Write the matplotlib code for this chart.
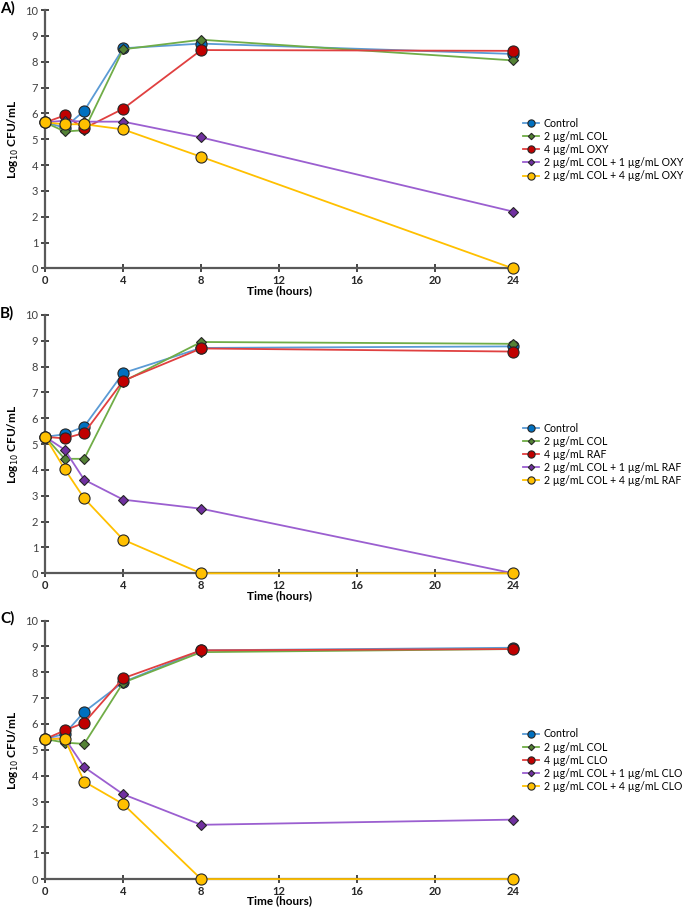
import matplotlib.pyplot as plt

plt.rcParams['font.family'] = ['Lato', 'DejaVu Sans']

# sampling times (hours)
hours = [0, 1, 2, 4, 8, 24]

# panel A: oxytetracycline
a_control = [5.65, 5.45, 6.10, 8.52, 8.70, 8.30]
a_col = [5.65, 5.30, 5.35, 8.48, 8.85, 8.05]
a_drug = [5.65, 5.92, 5.42, 6.18, 8.45, 8.42]
a_combo1 = [5.65, 5.72, 5.68, 5.68, 5.07, 2.20]
a_combo4 = [5.65, 5.58, 5.58, 5.38, 4.32, 0.00]

# panel B: rafoxanide
b_control = [5.28, 5.38, 5.68, 7.75, 8.72, 8.78]
b_col = [5.28, 4.43, 4.43, 7.42, 8.95, 8.88]
b_drug = [5.28, 5.22, 5.43, 7.45, 8.70, 8.58]
b_combo1 = [5.28, 4.78, 3.62, 2.85, 2.50, 0.00]
b_combo4 = [5.28, 4.03, 2.90, 1.30, 0.00, 0.00]

# panel C: closantel
c_control = [5.42, 5.62, 6.47, 7.62, 8.85, 8.95]
c_col = [5.42, 5.28, 5.23, 7.60, 8.78, 8.90]
c_drug = [5.42, 5.75, 6.05, 7.77, 8.85, 8.90]
c_combo1 = [5.42, 5.45, 4.33, 3.28, 2.10, 2.30]
c_combo4 = [5.42, 5.43, 3.77, 2.90, 0.00, 0.00]

panels = [
    ('A)', 'OXY', [a_control, a_col, a_drug, a_combo1, a_combo4]),
    ('B)', 'RAF', [b_control, b_col, b_drug, b_combo1, b_combo4]),
    ('C)', 'CLO', [c_control, c_col, c_drug, c_combo1, c_combo4]),
]

# (line colour, marker fill, marker, marker size)
styles = [
    ('#5B9BD5', '#0070C0', 'o', 8),
    ('#70AD47', '#548235', 'D', 5),
    ('#E04040', '#C00000', 'o', 8),
    ('#9B5FD0', '#7030A0', 'D', 5),
    ('#FFC000', '#FFC000', 'o', 8),
]

fig = plt.figure(figsize=(6.85, 9.1), dpi=100)
tops = [0.989, 0.654, 0.318]
axis_col = '#595959'

for (letter, drug, series), top in zip(panels, tops):
    ax = fig.add_axes([0.066, top - 0.284, 0.683, 0.284])
    labels = ['Control', '2 µg/mL COL', '4 µg/mL ' + drug,
              '2 µg/mL COL + 1 µg/mL ' + drug, '2 µg/mL COL + 4 µg/mL ' + drug]
    for vals, lab, (lc, fc, mk, ms) in zip(series, labels, styles):
        ax.plot(hours, vals, color=lc, lw=1.3, marker=mk, ms=ms,
                mfc=fc, mec='#262626', mew=0.8, label=lab, clip_on=False, zorder=3)
    ax.set_xlim(0, 24)
    ax.set_ylim(0, 10)
    ax.set_xticks(range(0, 25, 4))
    ax.set_yticks(range(0, 11))
    for s in ['top', 'right']:
        ax.spines[s].set_visible(False)
    for s in ['left', 'bottom']:
        ax.spines[s].set_color(axis_col)
        ax.spines[s].set_linewidth(1.6)
    ax.tick_params(direction='inout', length=6, width=1.2, color='#262626',
                   labelsize=8, labelcolor='#404040', pad=2)
    for t in ax.get_xticklabels():
        t.set_fontweight('bold')
        t.set_color('#262626')
    ax.set_xlabel('Time (hours)', fontsize=8.5, fontweight='bold', labelpad=-1)
    ax.set_ylabel('Log$_{10}$ CFU/mL', fontsize=8.5, fontweight='bold', labelpad=3)
    ax.legend(loc='center left', bbox_to_anchor=(1.0, 0.46), frameon=False,
              fontsize=7.6, handlelength=1.6, labelspacing=0.2, markerscale=0.65,
              handletextpad=0.4, borderaxespad=0.5)
    fig.text(0.0, top + 0.01, letter, fontsize=11, fontweight='bold', va='top')

fig.savefig('out.png', dpi=100)
